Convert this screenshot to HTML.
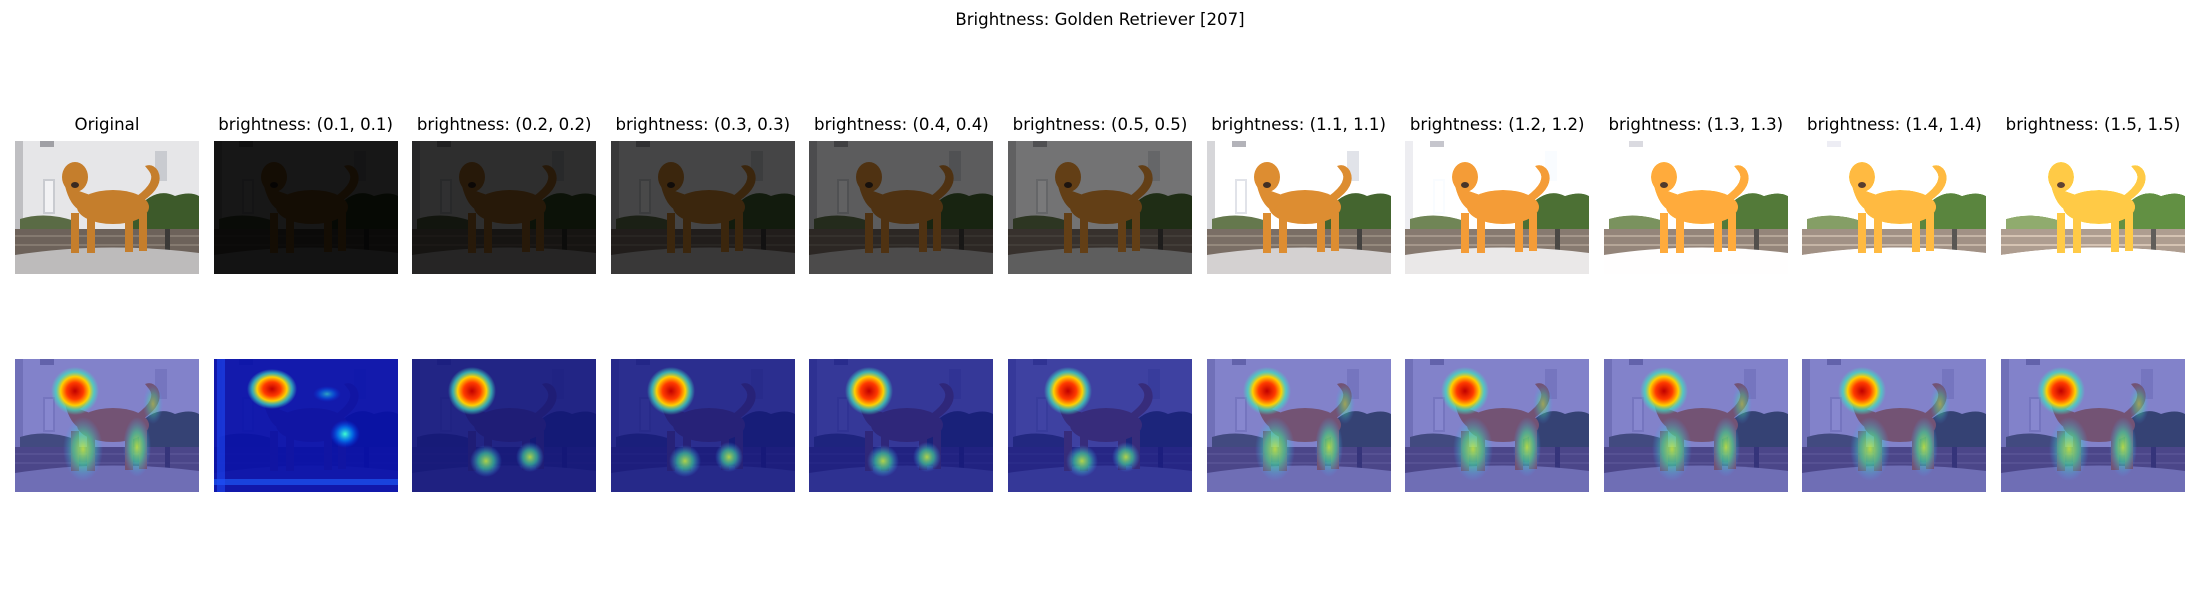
<!DOCTYPE html>
<html><head><meta charset="utf-8"><style>
body{margin:0;background:#fff;width:2200px;height:600px;overflow:hidden;position:relative;font-family:"DejaVu Sans","Liberation Sans",sans-serif;}
.t{position:absolute;font-size:16.6px;color:#000;white-space:nowrap;transform:translateX(-50%);line-height:1}
.p{position:absolute;width:184px;height:133px;}
</style></head><body>
<div class="t" style="left:1100px;top:12px">Brightness: Golden Retriever [207]</div>
<svg width="0" height="0" style="position:absolute">
<defs>
<g id="scene">
<rect width="184" height="133" fill="#e6e6e8"/>
<rect x="0" y="0" width="8" height="100" fill="#bfbfc2"/>
<rect x="28" y="38" width="12" height="35" fill="#c9cbd0"/><rect x="30" y="40" width="8" height="31" fill="#f2f2f4"/>
<rect x="140" y="10" width="12" height="30" fill="#c9cbd0"/>
<rect x="25" y="0" width="14" height="6" fill="#a0a0a5"/>
<path d="M120 70 Q140 45 160 55 Q175 50 184 55 L184 95 L115 95 Z" fill="#3d5a2a"/>
<path d="M5 78 Q30 70 60 80 L60 95 L5 95Z" fill="#5a6b45"/>
<rect x="0" y="88" width="184" height="26" fill="#6d625a"/>
<rect x="0" y="94" width="184" height="2" fill="#857a70"/><rect x="0" y="103" width="184" height="2" fill="#857a70"/>
<rect x="150" y="88" width="5" height="26" fill="#3c3a38"/>
<path d="M0 114 Q90 100 184 112 L184 133 L0 133Z" fill="#bdbbbb"/>
<g fill="#c57e2c">
<ellipse cx="98" cy="66" rx="36" ry="17"/>
<ellipse cx="60" cy="36" rx="13" ry="15"/>
<path d="M50 45 Q55 65 66 70 L78 55 Z"/>
<rect x="56" y="72" width="8" height="40"/><rect x="72" y="74" width="8" height="38"/>
<rect x="110" y="74" width="8" height="37"/><rect x="124" y="72" width="8" height="38"/>
<path d="M128 60 Q150 45 143 30 Q138 22 130 25 L134 30 Q142 40 122 55 Z"/>
</g>
<ellipse cx="60" cy="44" rx="4" ry="3" fill="#3a2a20"/>
</g>
<radialGradient id="head"><stop offset="0" stop-color="#c00000"/><stop offset=".35" stop-color="#ff3a00"/><stop offset=".6" stop-color="#ffd000"/><stop offset=".8" stop-color="#40e0c0" stop-opacity=".7"/><stop offset="1" stop-color="#40e0c0" stop-opacity="0"/></radialGradient>
<radialGradient id="glow"><stop offset="0" stop-color="#c8f040" stop-opacity=".85"/><stop offset=".5" stop-color="#40e0a0" stop-opacity=".6"/><stop offset="1" stop-color="#40a0ff" stop-opacity="0"/></radialGradient>
<radialGradient id="cyan"><stop offset="0" stop-color="#40ffd0"/><stop offset=".5" stop-color="#0090ff" stop-opacity=".7"/><stop offset="1" stop-color="#0040ff" stop-opacity="0"/></radialGradient>
</defs></svg>
<div id="root"></div>
<script>
const labels=["Original","brightness: (0.1, 0.1)","brightness: (0.2, 0.2)","brightness: (0.3, 0.3)","brightness: (0.4, 0.4)","brightness: (0.5, 0.5)","brightness: (1.1, 1.1)","brightness: (1.2, 1.2)","brightness: (1.3, 1.3)","brightness: (1.4, 1.4)","brightness: (1.5, 1.5)"];
const factors=[1,0.1,0.2,0.3,0.4,0.5,1.1,1.2,1.3,1.4,1.5];
const root=document.getElementById('root');
const NS='http://www.w3.org/2000/svg';
for(let i=0;i<labels.length;i++){
  const x=15+198.6*i;
  const t=document.createElement('div');t.className='t';
  
  
  t.style.left=(x+92)+'px';t.style.top='117px';t.textContent=labels[i];root.appendChild(t);
  const f=factors[i];
  const top=document.createElement('div');top.className='p';top.style.left=x+'px';top.style.top='141px';
  
  
  const bri=f>1?(1+(f-1)*1.2):f;
  top.innerHTML='<svg width="184" height="133" style="filter:brightness('+bri+')"><use href="#scene"/></svg>';
  root.appendChild(top);
  const bot=document.createElement('div');bot.className='p';bot.style.left=x+'px';bot.style.top='359px';
  
  
  let s='<svg width="184" height="133">';
  if(f===0.1){
    s+='<rect width="184" height="133" fill="#0a14d8"/><g style="opacity:.25;filter:brightness(.2)"><use href="#scene"/></g>';
    s+='<ellipse cx="58" cy="30" rx="25" ry="20" fill="url(#head)"/>';
    s+='<ellipse cx="131" cy="75" rx="15" ry="14" fill="url(#cyan)"/><ellipse cx="113" cy="35" rx="14" ry="8" fill="url(#cyan)" opacity=".6"/>';
    s+='<rect x="0" y="120" width="184" height="6" fill="#2060ff" opacity=".6"/><rect x="3" y="0" width="8" height="133" fill="#2050ff" opacity=".5"/>';
  } else {
    const dim=f<1?f:1;
    s+='<g style="filter:brightness('+dim+')"><use href="#scene"/></g><rect width="184" height="133" fill="'+(f<1?'#1a20c0':'#3030b0')+'" opacity="'+(f<1?0.6:0.55)+'"/>';
    s+='<ellipse cx="60" cy="32" rx="24" ry="24" fill="url(#head)"/>';
    if(f<1){s+='<ellipse cx="74" cy="102" rx="16" ry="16" fill="url(#glow)"/><ellipse cx="118" cy="98" rx="14" ry="15" fill="url(#glow)"/>';}
    else{s+='<ellipse cx="68" cy="90" rx="20" ry="32" fill="url(#glow)"/><ellipse cx="122" cy="88" rx="14" ry="30" fill="url(#glow)"/><ellipse cx="138" cy="45" rx="10" ry="20" fill="url(#glow)" opacity=".6"/>';}
  }
  s+='</svg>';
  bot.innerHTML=s;root.appendChild(bot);
}
</script>
</body></html>
